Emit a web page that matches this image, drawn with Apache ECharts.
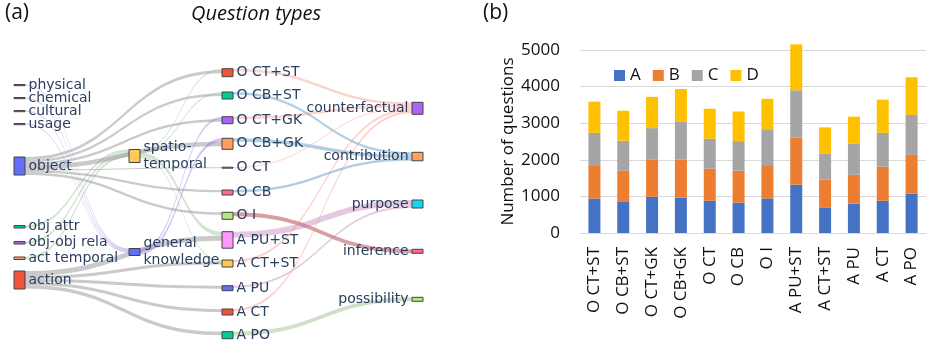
<!DOCTYPE html>
<html>
<head>
<meta charset="utf-8">
<script src="https://cdn.jsdelivr.net/npm/echarts@6/dist/echarts.min.js"></script>
<style>
    html, body {margin: 0; padding: 0; background: #fff;}
    #main {width: 926px; height: 342px;}
</style>
</head>
<body>
<div id="main"></div>
<script>
// ---- (a) sankey: nodes per column, top to bottom, with their sizes
var sources = ['physical', 'chemical', 'cultural', 'usage', 'object', 'obj attr', 'obj-obj rela', 'act temporal', 'action'];
var sourceSize = [1.2, 1.2, 1.2, 1.2, 18, 2.5, 2.5, 2.5, 18];
var skills = ['spatio-temporal', 'general knowledge'];
var skillSize = [13, 7];
var qTypes = ['O CT+ST', 'O CB+ST', 'O CT+GK', 'O CB+GK', 'O CT', 'O CB', 'O I', 'A PU+ST', 'A CT+ST', 'A PU', 'A CT', 'A PO'];
var qTypeSize = [8, 7, 7, 11, 1, 5, 7, 16.5, 7, 5, 6, 7];
var reasons = ['counterfactual', 'contribution', 'purpose', 'inference', 'possibility'];
var reasonSize = [12, 8.5, 8, 4, 4];

// flows
var objectTargets = ['O CT+ST', 'O CB+ST', 'O CT+GK', 'O CB+GK', 'O CT', 'O CB', 'O I'];
var objectFlow = [3, 2.5, 2.5, 4.5, 0.8, 2.2, 2.5];
var actionTargets = ['A PU+ST', 'A CT+ST', 'A PU', 'A CT', 'A PO'];
var actionFlow = [5, 3, 3, 3, 3.5];
var stSources = ['obj attr', 'obj-obj rela', 'act temporal'];
var stInFlow = [2.5, 2.5, 2.5];
var gkSources = ['physical', 'chemical', 'cultural', 'usage'];
var gkInFlow = [1, 1, 1, 1];
var stTargets = ['O CT+ST', 'O CB+ST', 'A PU+ST', 'A CT+ST'];
var stOutFlow = [1.5, 1.5, 4, 1.5];
var gkTargets = ['O CT+GK', 'O CB+GK'];
var gkOutFlow = [2.5, 3.5];
var qTypeReason = ['counterfactual', 'contribution', 'counterfactual', 'contribution', 'counterfactual', 'contribution',
    'inference', 'purpose', 'counterfactual', 'purpose', 'counterfactual', 'possibility'];
var qTypeOutFlow = [2.5, 2.5, 2.5, 3.5, 1, 2.5, 4, 6, 2.5, 2, 2.5, 4];

// ---- (b) stacked bars
var barCats = ['O CT+ST', 'O CB+ST', 'O CT+GK', 'O CB+GK', 'O CT', 'O CB', 'O I', 'A PU+ST', 'A CT+ST', 'A PU', 'A CT', 'A PO'];
var valsA = [940, 865, 990, 965, 880, 830, 945, 1320, 700, 800, 880, 1075];
var valsB = [915, 835, 1010, 1045, 875, 870, 910, 1290, 755, 790, 930, 1060];
var valsC = [880, 820, 865, 1025, 820, 810, 980, 1290, 720, 845, 925, 1090];
var valsD = [855, 820, 855, 900, 820, 810, 830, 1255, 710, 745, 910, 1030];
var yTicks = [0, 1000, 2000, 3000, 4000, 5000];

// ---- layout of the sankey (pixels in the page)
var sk = {left: 14, top: 60, width: 410, height: 280};
var colX = [14, 129, 222, 412];
var sourceTop = [84.5, 97.5, 110.5, 123.5, 157, 225.5, 241.5, 257, 271];
var skillTop = [149.5, 248.5];
var qTypeTop = [68.7, 92, 116.7, 138.3, 167.2, 190, 212.3, 231.7, 260, 285.7, 309, 331.7];
var reasonTop = [102.3, 152.3, 200, 249.3, 297.3];

var plotly = ['#636efa', '#EF553B', '#00cc96', '#ab63fa', '#FFA15A', '#19d3f3', '#FF6692', '#B6E880', '#FF97FF', '#FECB52'];
var sourceColor = [plotly[5], plotly[6], plotly[7], plotly[8], plotly[0], plotly[2], plotly[3], plotly[4], plotly[1]];
var skillColor = [plotly[9], plotly[0]];
var reasonColor = [plotly[3], plotly[4], plotly[5], plotly[6], plotly[7]];
var linkColor = {
    gray: 'rgba(150,150,150,0.5)',
    st: 'rgba(143,188,143,0.4)',
    gk: 'rgba(147,112,219,0.4)',
    counterfactual: 'rgba(250,128,114,0.35)',
    contribution: 'rgba(70,140,190,0.42)',
    purpose: 'rgba(190,120,180,0.4)',
    inference: 'rgba(180,60,70,0.5)',
    possibility: 'rgba(140,180,120,0.4)'
};

var nodes = [];
function addNodes(names, sizes, tops, depth, colors, labelPos) {
    names.forEach(function (name, i) {
        var node = {
            name: name,
            value: sizes[i],
            depth: depth,
            localX: (colX[depth] - sk.left) / sk.width,
            localY: (tops[i] - sk.top) / sk.height,
            itemStyle: {color: colors[i % colors.length]},
            label: {position: labelPos}
        };
        if (depth === 1) {
            node.label.formatter = name === 'spatio-temporal' ? 'spatio-\ntemporal' : name.replace(' ', '\n');
        }
        nodes.push(node);
    });
}
addNodes(sources, sourceSize, sourceTop, 0, sourceColor, 'right');
addNodes(skills, skillSize, skillTop, 1, skillColor, 'right');
addNodes(qTypes, qTypeSize, qTypeTop, 2, plotly.slice(1).concat(plotly.slice(0, 1)), 'right');
addNodes(reasons, reasonSize, reasonTop, 3, reasonColor, 'left');

var links = [];
function addLinks(src, tgt, vals, color) {
    vals.forEach(function (v, i) {
        var s = Array.isArray(src) ? src[i] : src;
        var t = Array.isArray(tgt) ? tgt[i] : tgt;
        var c = typeof color === 'function' ? color(t) : color;
        links.push({source: s, target: t, value: v, lineStyle: {color: c}});
    });
}
addLinks(gkSources, 'general knowledge', gkInFlow, linkColor.gk);
addLinks(stSources, 'spatio-temporal', stInFlow, linkColor.st);
addLinks('object', objectTargets, objectFlow, linkColor.gray);
addLinks('action', actionTargets, actionFlow, linkColor.gray);
addLinks('spatio-temporal', stTargets, stOutFlow, linkColor.st);
addLinks('general knowledge', gkTargets, gkOutFlow, linkColor.gk);
addLinks(qTypes, qTypeReason, qTypeOutFlow, function (t) { return linkColor[t]; });

var chart = echarts.init(document.getElementById('main'));
var barFont = 'Open Sans';
var option = {
    animation: false,
    title: [
        {text: '(a)', left: 0, top: -2, textStyle: {fontFamily: barFont, fontWeight: 'normal', fontSize: 21, color: '#111'}},
        {text: 'Question types', left: 186, top: -1, textStyle: {fontFamily: barFont, fontStyle: 'italic', fontWeight: 'normal', fontSize: 20, color: '#111'}},
        {text: '(b)', left: 478, top: -2, textStyle: {fontFamily: barFont, fontWeight: 'normal', fontSize: 21, color: '#111'}}
    ],
    legend: {
        data: ['A', 'B', 'C', 'D'],
        left: 609, top: 62,
        icon: 'rect', itemWidth: 11, itemHeight: 11, itemGap: 12,
        textStyle: {fontFamily: barFont, fontSize: 17, color: '#111'}
    },
    grid: [{left: 580, right: 0, top: 50, bottom: 109}],
    xAxis: [{
        type: 'category',
        data: barCats,
        axisLine: {lineStyle: {color: '#d9d9d9'}},
        axisTick: {show: false},
        axisLabel: {rotate: 90, interval: 0, margin: 14, fontFamily: barFont, fontSize: 17, color: '#111'}
    }],
    yAxis: [{
        type: 'value',
        min: yTicks[0], max: yTicks[yTicks.length - 1], interval: 1000,
        name: 'Number of questions',
        nameLocation: 'middle',
        nameGap: 63,
        nameTextStyle: {fontFamily: barFont, fontSize: 17, color: '#111'},
        axisLabel: {margin: 20, fontFamily: barFont, fontSize: 17, color: '#111', formatter: function (v) { return String(v); }},
        splitLine: {lineStyle: {color: '#d9d9d9'}}
    }],
    series: [
        {
            type: 'sankey',
            left: sk.left, top: sk.top, width: sk.width, height: sk.height,
            nodeWidth: 11,
            nodeGap: (sk.height - qTypeSize.reduce(function (a, b) { return a + b; }, 0)) / (qTypes.length - 1),
            layoutIterations: 0,
            draggable: false,
            emphasis: {disabled: true},
            itemStyle: {borderColor: '#444', borderWidth: 1},
            lineStyle: {curveness: 0.5, opacity: 1},
            label: {distance: 3, color: '#2a3f5f', fontFamily: 'DejaVu Sans', fontSize: 14, lineHeight: 17},
            data: nodes,
            links: links
        },
        {name: 'A', type: 'bar', stack: 'q', barWidth: 12, clip: false, itemStyle: {color: '#4472C4'}, data: valsA},
        {name: 'B', type: 'bar', stack: 'q', barWidth: 12, clip: false, itemStyle: {color: '#ED7D31'}, data: valsB},
        {name: 'C', type: 'bar', stack: 'q', barWidth: 12, clip: false, itemStyle: {color: '#A5A5A5'}, data: valsC},
        {name: 'D', type: 'bar', stack: 'q', barWidth: 12, clip: false, itemStyle: {color: '#FFC000'}, data: valsD}
    ]
};
chart.setOption(option);
</script>
</body>
</html>
